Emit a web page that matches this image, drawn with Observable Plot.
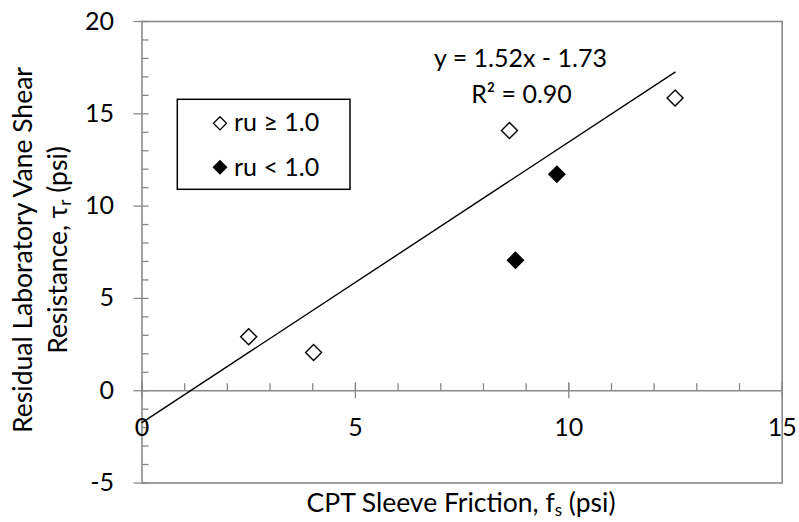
<!DOCTYPE html>
<html>
<head>
<meta charset="utf-8">
<script src="https://cdn.jsdelivr.net/npm/d3@7"></script>
<script src="https://cdn.jsdelivr.net/npm/@observablehq/plot@0.6"></script>
<style>
  html, body { margin: 0; padding: 0; background: white; }
</style>
</head>
<body>
<div id="chart"></div>
<script>
// ---- data ----
const openX = [2.5, 4.02, 8.61, 12.49];     // ru >= 1.0 (open diamonds)
const openY = [2.92, 2.07, 14.1, 15.85];
const filledX = [9.72, 8.75];               // ru < 1.0 (filled diamonds)
const filledY = [11.72, 7.07];
const trendSlope = 1.52;                    // from "y = 1.52x - 1.73"
const trendIntercept = -1.73;
const trendR2 = "0.90";
const xTicks = [0, 5, 10, 15];
const yTicks = [-5, 0, 5, 10, 15, 20];
const xMinor = d3.range(0, 16, 1);
const yMinor = d3.range(-5, 21, 1);
const legendLabels = ["ru \u2265 1.0", "ru < 1.0"];

const openData = openX.map((x, i) => ({x, y: openY[i]}));
const filledData = filledX.map((x, i) => ({x, y: filledY[i]}));
const allX = openX.concat(filledX);
const trendData = [d3.min([0].concat(allX)), d3.max(allX)].map(x => ({x, y: trendSlope * x + trendIntercept}));

const gray = "#898989";
const font = "Lato";
const fs = 25;
const tfs = 26.5;

const svg = Plot.plot({
  width: 799,
  height: 522,
  marginLeft: 141.5,
  marginRight: 17.3,
  marginTop: 21,
  marginBottom: 39.5,
  style: {fontFamily: font, fontSize: fs + "px", color: "black", background: "white"},
  x: {domain: [0, 15], axis: null},
  y: {domain: [-5, 20], axis: null},
  marks: [
    Plot.ruleY([0], {stroke: gray, strokeWidth: 1.5}),
    Plot.ruleX(xMinor, {x: d => d, y1: 0, y2: 0, insetTop: -7, insetBottom: 0, stroke: gray, strokeWidth: 1.3}),
    Plot.ruleX(xTicks, {x: d => d, y1: 0, y2: 0, insetTop: -8, insetBottom: -8, stroke: gray, strokeWidth: 1.3}),
    Plot.ruleY(yMinor, {y: d => d, x1: 0, x2: 0, insetLeft: 0, insetRight: -7, stroke: gray, strokeWidth: 1.3}),
    Plot.ruleY(yTicks, {y: d => d, x1: 0, x2: 0, insetLeft: -8, insetRight: 0, stroke: gray, strokeWidth: 1.3}),
    Plot.frame({stroke: gray, strokeWidth: 1.6}),
    Plot.text(xTicks, {x: d => d, y: 0, dy: 37, text: d => String(d), fill: "black"}),
    Plot.text(yTicks, {x: 0, y: d => d, dx: -28, text: d => String(d), textAnchor: "end", fill: "black"}),
    Plot.line(trendData, {x: "x", y: "y", stroke: "black", strokeWidth: 1.4}),
    Plot.dot(openData, {x: "x", y: "y", symbol: "diamond2", r: 7.2, fill: "white", stroke: "black", strokeWidth: 1.4}),
    Plot.dot(filledData, {x: "x", y: "y", symbol: "diamond2", r: 7.2, fill: "black", stroke: "black", strokeWidth: 1.4}),
    Plot.text([`y = ${trendSlope.toFixed(2)}x - ${Math.abs(trendIntercept).toFixed(2)}`],
      {frameAnchor: "top-left", dx: 378.5, dy: 45, lineAnchor: "bottom", textAnchor: "middle", text: d => d, fill: "black"}),
    Plot.text([`R\u00b2 = ${trendR2}`],
      {frameAnchor: "top-left", dx: 379.5, dy: 81, lineAnchor: "bottom", textAnchor: "middle", text: d => d, fill: "black"})
  ]
});

document.getElementById("chart").appendChild(svg);

const s = d3.select(svg);

// Legend box
const lg = s.append("g").attr("class", "legend");
lg.append("rect").attr("x", 177.3).attr("y", 99.3).attr("width", 172.7).attr("height", 90)
  .attr("fill", "white").attr("stroke", "black").attr("stroke-width", 1.5);
const diamond = d3.symbol(d3.symbolDiamond2, 110);
[[123.3, "white", 131], [167.3, "black", 175.5]].forEach(([cy, fill, by], i) => {
  lg.append("path").attr("d", diamond()).attr("transform", `translate(220,${cy})`)
    .attr("fill", fill).attr("stroke", "black").attr("stroke-width", 1.3);
  lg.append("text").attr("x", 234).attr("y", by).attr("text-anchor", "start")
    .attr("font-family", font).attr("font-size", fs).attr("fill", "black").text(legendLabels[i]);
});

// X axis title
const xt = s.append("text").attr("x", 461).attr("y", 512).attr("text-anchor", "middle")
  .attr("font-family", font).attr("font-size", tfs).attr("fill", "black");
xt.append("tspan").text("CPT Sleeve Friction, f");
xt.append("tspan").attr("font-size", 17).attr("dy", 4).text("s");
xt.append("tspan").attr("dy", -4).text(" (psi)");

// Y axis title (two lines)
s.append("text").attr("transform", "translate(32,250) rotate(-90)").attr("text-anchor", "middle")
  .attr("font-family", font).attr("font-size", tfs).attr("fill", "black").text("Residual Laboratory Vane Shear");
const yt2 = s.append("text").attr("transform", "translate(67,250) rotate(-90)").attr("text-anchor", "middle")
  .attr("font-family", font).attr("font-size", tfs).attr("fill", "black");
yt2.append("tspan").text("Resistance, \u03c4");
yt2.append("tspan").attr("font-size", 17).attr("dy", 4).text("r");
yt2.append("tspan").attr("dy", -4).text(" (psi)");
</script>
</body>
</html>
